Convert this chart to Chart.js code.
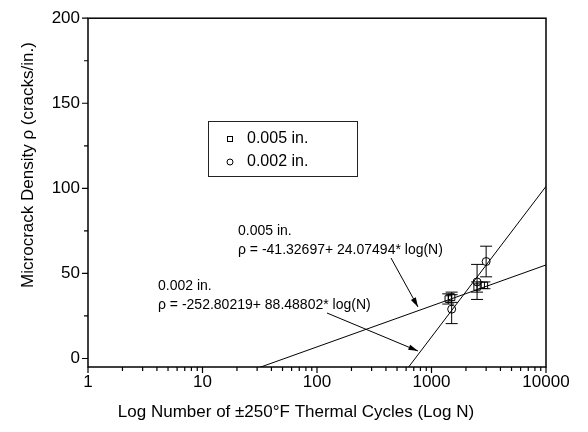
<!DOCTYPE html>
<html>
<head>
<meta charset="utf-8">
<script src="https://cdn.jsdelivr.net/npm/chart.js@4/dist/chart.umd.min.js"></script>
<style>
  html, body { margin: 0; padding: 0; background: #fff; }
  #wrap { width: 588px; height: 432px; }
</style>
</head>
<body>
<div id="wrap"><canvas id="crack-chart" width="588" height="432"></canvas></div>
<script>
// 0.005 in. specimens
const cycles005 = [1400, 1500, 2500, 2900];
const density005 = [35, 36, 42, 43];
const error005 = [3, 3, 3, 2];

// 0.002 in. specimens
const cycles002 = [1500, 2500, 3000];
const density002 = [29, 45, 57];
const error002 = [8.5, 10.3, 9];

// fitted lines, end points at N = 1 and N = 10000
const fitCycles = [1, 10000];
const fit005 = [-41.33, 54.97];
const fit002 = [-252.8, 101.15];

const xTickLabels = [1, 10, 100, 1000, 10000];
const yTickLabels = [0, 50, 100, 150, 200];

const FONT = 'Liberation Sans, Arial, sans-serif';

function pts(xs, ys) {
    return xs.map((x, i) => ({ x: x, y: ys[i] }));
}

// all the 1..9 x 10^k minor positions for the log axis
const xMinor = [];
xTickLabels.slice(0, -1).forEach(d => {
    for (let k = 1; k < 10; k++) xMinor.push(d * k);
});
xMinor.push(10000);

const errorBars = {
    id: 'errorBars',
    afterDatasetsDraw(chart) {
        const { ctx, scales: { x, y } } = chart;
        ctx.save();
        ctx.strokeStyle = '#000';
        ctx.lineWidth = 1;
        const sets = [[cycles005, density005, error005], [cycles002, density002, error002]];
        sets.forEach(([xs, ys, es]) => {
            xs.forEach((n, i) => {
                const px = x.getPixelForValue(n);
                const top = y.getPixelForValue(ys[i] + es[i]);
                const bot = y.getPixelForValue(ys[i] - es[i]);
                ctx.beginPath();
                ctx.moveTo(px, top); ctx.lineTo(px, bot);
                ctx.moveTo(px - 6, top); ctx.lineTo(px + 6, top);
                ctx.moveTo(px - 6, bot); ctx.lineTo(px + 6, bot);
                ctx.stroke();
            });
        });
        ctx.restore();
    }
};

function arrow(ctx, x1, y1, x2, y2) {
    const ang = Math.atan2(y2 - y1, x2 - x1);
    ctx.beginPath();
    ctx.moveTo(x1, y1);
    ctx.lineTo(x2, y2);
    ctx.stroke();
    ctx.beginPath();
    ctx.moveTo(x2, y2);
    ctx.lineTo(x2 - 10 * Math.cos(ang - 0.28), y2 - 10 * Math.sin(ang - 0.28));
    ctx.lineTo(x2 - 10 * Math.cos(ang + 0.28), y2 - 10 * Math.sin(ang + 0.28));
    ctx.closePath();
    ctx.fill();
}

const frameAndNotes = {
    id: 'frameAndNotes',
    afterDraw(chart) {
        const { ctx, chartArea: a, scales: { x, y } } = chart;
        ctx.save();
        ctx.strokeStyle = '#000';
        ctx.fillStyle = '#000';

        // frame
        ctx.lineWidth = 1.5;
        ctx.strokeRect(a.left, a.top, a.right - a.left, a.bottom - a.top);

        // ticks, outside
        ctx.lineWidth = 1.2;
        ctx.beginPath();
        xMinor.forEach(v => {
            const px = x.getPixelForValue(v);
            const len = xTickLabels.includes(v) ? 6 : 4;
            ctx.moveTo(px, a.bottom); ctx.lineTo(px, a.bottom + len);
        });
        for (let v = 0; v <= 200; v += 25) {
            const py = y.getPixelForValue(v);
            const len = yTickLabels.includes(v) ? 6 : 4;
            ctx.moveTo(a.left, py); ctx.lineTo(a.left - len, py);
        }
        ctx.stroke();

        // axis titles (not centred on the plot in the original)
        ctx.font = '17px ' + FONT;
        ctx.textAlign = 'center';
        ctx.textBaseline = 'middle';
        ctx.fillText('Log Number of \u00b1250\u00b0F Thermal Cycles (Log N)', 296, 412);
        ctx.save();
        ctx.translate(28, 165);
        ctx.rotate(-Math.PI / 2);
        ctx.fillText('Microcrack Density \u03c1 (cracks/in.)', 0, 0);
        ctx.restore();

        // legend box
        ctx.textAlign = 'left';
        ctx.lineWidth = 1;
        ctx.strokeStyle = '#222';
        ctx.strokeRect(208.5, 121.5, 149, 55);
        ctx.strokeStyle = '#000';
        ctx.strokeRect(227.5, 136.5, 5, 5);
        ctx.beginPath();
        ctx.arc(230, 162, 3, 0, Math.PI * 2);
        ctx.stroke();
        ctx.font = '16px ' + FONT;
        ctx.fillText('0.005 in.', 247, 139);
        ctx.fillText('0.002 in.', 247, 162);

        // fit annotations
        ctx.font = '14px ' + FONT;
        ctx.fillText('0.005 in.', 238, 231);
        ctx.fillText('\u03c1 = -41.32697+ 24.07494* log(N)', 238, 250);
        ctx.fillText('0.002 in.', 158, 286);
        ctx.fillText('\u03c1 = -252.80219+ 88.48802* log(N)', 158, 305);

        ctx.lineWidth = 1;
        arrow(ctx, 391, 258, 418, 307);
        arrow(ctx, 327, 313, 418, 351);
        ctx.restore();
    }
};

const ctx = document.getElementById('crack-chart').getContext('2d');
const chart = new Chart(ctx, {
    type: 'scatter',
    data: {
        datasets: [{
            label: '0.005 in.',
            data: pts(cycles005, density005),
            pointStyle: 'rect',
            pointRadius: 4.5,
            borderColor: '#000',
            backgroundColor: 'rgba(0,0,0,0)',
            borderWidth: 1,
            order: 1
        }, {
            label: '0.002 in.',
            data: pts(cycles002, density002),
            pointStyle: 'circle',
            pointRadius: 4,
            borderColor: '#000',
            backgroundColor: 'rgba(0,0,0,0)',
            borderWidth: 1,
            order: 1
        }, {
            label: 'fit 0.005',
            data: pts(fitCycles, fit005),
            showLine: true,
            pointRadius: 0,
            borderColor: '#000',
            borderWidth: 1,
            order: 2
        }, {
            label: 'fit 0.002',
            data: pts(fitCycles, fit002),
            showLine: true,
            pointRadius: 0,
            borderColor: '#000',
            borderWidth: 1,
            order: 2
        }]
    },
    options: {
        responsive: false,
        animation: false,
        layout: { padding: { top: 17, right: 42, left: 0, bottom: 0 } },
        scales: {
            x: {
                type: 'logarithmic',
                min: 1,
                max: 10000,
                grid: { display: false, drawTicks: false },
                border: { display: false },
                afterBuildTicks: (s) => { s.ticks = xTickLabels.map(v => ({ value: v })); },
                afterFit: (s) => { s.height = 65; },
                ticks: {
                    autoSkip: false,
                    maxRotation: 0,
                    padding: 5,
                    color: '#000',
                    font: { family: FONT, size: 17 },
                    callback: (v) => String(v)
                }
            },
            y: {
                min: -5,
                max: 200,
                grid: { display: false, drawTicks: false },
                border: { display: false },
                afterBuildTicks: (s) => { s.ticks = yTickLabels.map(v => ({ value: v })); },
                afterFit: (s) => { s.width = 88; },
                ticks: {
                    padding: 8,
                    color: '#000',
                    font: { family: FONT, size: 17 }
                }
            }
        },
        plugins: {
            legend: { display: false },
            tooltip: { enabled: false }
        }
    },
    plugins: [errorBars, frameAndNotes]
});
</script>
</body>
</html>
